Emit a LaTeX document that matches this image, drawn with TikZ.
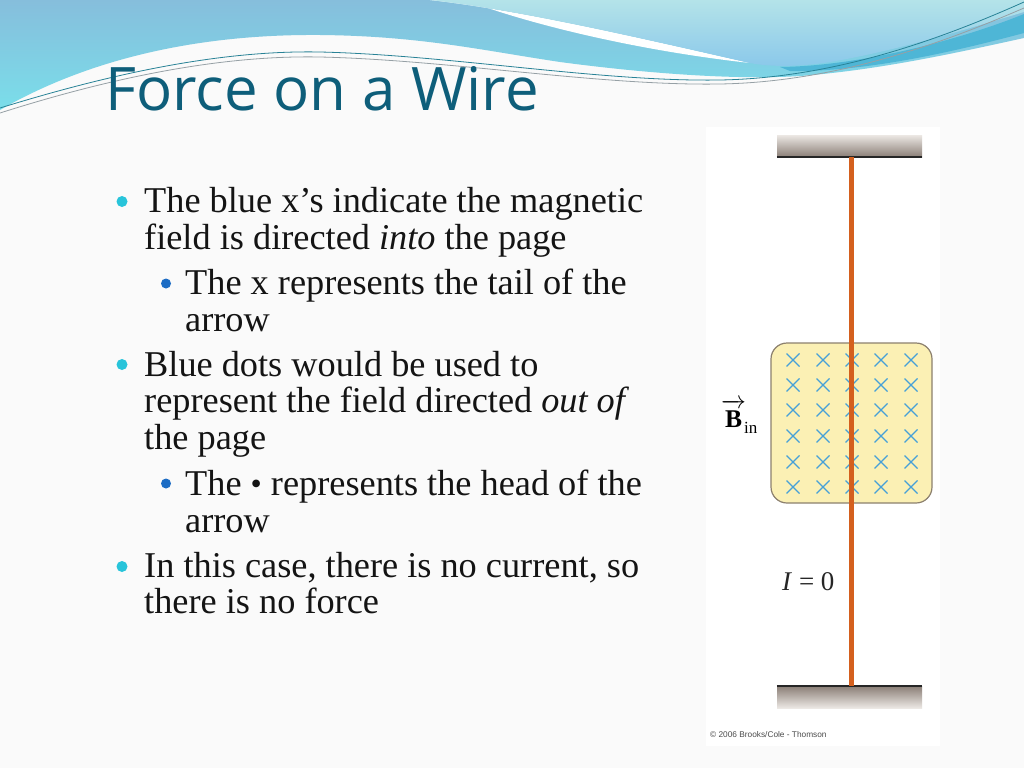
\documentclass[tikz,border=0pt]{standalone}
\usepackage{fontspec}
\setmainfont{Liberation Serif}
\newfontfamily\titlefont{Open Sans}
\newfontfamily\credfont{Liberation Sans}
\usetikzlibrary{positioning}
\definecolor{slide_bg}{RGB}{250,250,250}
\definecolor{wave_top}{RGB}{134,190,220}
\definecolor{wave_cyan}{RGB}{122,222,234}
\definecolor{wave_light}{RGB}{180,227,233}
\definecolor{wave_mid}{RGB}{138,200,234}
\definecolor{wave_teal}{RGB}{78,182,214}
\definecolor{line_teal}{RGB}{40,130,150}
\definecolor{line_gray}{RGB}{150,160,165}
\definecolor{title_teal}{RGB}{14,94,122}
\definecolor{bul_cyan}{RGB}{40,196,218}
\definecolor{bul_blue}{RGB}{28,108,196}
\definecolor{bar_light}{RGB}{236,232,228}
\definecolor{bar_dark}{RGB}{138,126,118}
\definecolor{wire_orange}{RGB}{212,96,30}
\definecolor{field_yellow}{RGB}{251,240,180}
\definecolor{field_edge}{RGB}{140,128,110}
\definecolor{cross_blue}{RGB}{70,160,215}

\begin{document}
\begin{tikzpicture}[x=1pt,y=-1pt]
    \tikzstyle{textline}=[anchor=base west, inner sep=0pt, font=\fontsize{36.3}{38}\selectfont, text=black!92]
    \tikzstyle{mainbul}=[circle, fill=bul_cyan, minimum size=11pt, inner sep=0pt]
    \tikzstyle{subbul}=[circle, fill=bul_blue, minimum size=10pt, inner sep=0pt]
    \tikzstyle{fieldx}=[cross_blue, line width=1.2pt]
    \tikzstyle{bar}=[rectangle, minimum width=145pt, minimum height=22pt, inner sep=0pt]

    \useasboundingbox (0,0) rectangle (1024,768);
    \fill[slide_bg] (0,0) rectangle (1024,768);

    % header waves
    \shade[top color=wave_top, bottom color=wave_cyan]
      (0,0) -- (0,110) .. controls (90,58) and (200,34) .. (320,35)
      .. controls (420,36) and (480,50) .. (560,62)
      .. controls (650,74) and (740,80) .. (800,76)
      .. controls (880,70) and (960,52) .. (1024,38) -- (1024,0) -- cycle;
    \fill[wave_teal] (780,67) .. controls (860,66) and (960,40) .. (1024,14)
      -- (1024,33) .. controls (960,50) and (870,72) .. (790,71) -- cycle;
    \fill[white] (430,0) .. controls (520,10) and (640,38) .. (750,63)
      .. controls (650,52) and (540,28) .. (465,0) -- cycle;
    \shade[top color=wave_light, bottom color=wave_mid]
      (430,0) .. controls (520,10) and (640,38) .. (750,63)
      .. controls (770,67) and (800,67) .. (830,62)
      .. controls (900,50) and (970,28) .. (1024,12) -- (1024,0) -- cycle;
    \draw[line_teal, line width=0.8pt] (0,108) .. controls (110,74) and (220,50) .. (320,52)
      .. controls (450,55) and (600,82) .. (720,80) .. controls (840,78) and (950,35) .. (1024,2);
    \draw[line_gray, line width=0.8pt] (0,113) .. controls (110,78) and (220,55) .. (320,57)
      .. controls (450,60) and (600,86) .. (720,84) .. controls (840,82) and (950,40) .. (1024,8);

    \node[anchor=base west, inner sep=0pt, text=title_teal, font=\titlefont\fontsize{60}{60}\selectfont] (title) at (105,110) {Force on a Wire};

    % bullets
    \node[mainbul] (b1) at (122,201.5) {};
    \node[subbul]  (b2) at (166,283.5) {};
    \node[mainbul] (b3) at (122,364.5) {};
    \node[subbul]  (b4) at (166,483.5) {};
    \node[mainbul] (b5) at (122,566.5) {};

    \node[textline] (t1)  at (144,212) {The blue x’s indicate the magnetic};
    \node[textline] (t2)  at (144,249) {field is directed \textit{into} the page};
    \node[textline] (t3)  at (185,294) {The x represents the tail of the};
    \node[textline] (t4)  at (185,331) {arrow};
    \node[textline] (t5)  at (144,376) {Blue dots would be used to};
    \node[textline] (t6)  at (144,412) {represent the field directed \textit{out of}};
    \node[textline] (t7)  at (144,449) {the page};
    \node[textline] (t8)  at (185,495) {The {\fontsize{32}{32}\selectfont\raisebox{1pt}{•}} represents the head of the};
    \node[textline] (t9)  at (185,532) {arrow};
    \node[textline] (t10) at (144,577) {In this case, there is no current, so};
    \node[textline] (t11) at (144,613) {there is no force};

    % figure
    \fill[white] (706,127) rectangle (940,746);
    \node[bar, top color=bar_light, bottom color=bar_dark] (top) at (849.5,146) {};
    \node[bar, top color=bar_dark, bottom color=bar_light] (bot) at (849.5,697) {};
    \draw[black!85, line width=1.5pt] (top.south west) -- (top.south east);
    \draw[black!85, line width=1.5pt] (bot.north west) -- (bot.north east);

    \node[draw=field_edge, fill=field_yellow, line width=1.2pt, rounded corners=16pt,
          minimum width=161pt, minimum height=160pt] (field) at (851.5,423) {};
    \foreach \cx in {793,823,852,881,911}
      \foreach \cy in {360,385,410,436,462,487}
        \draw[fieldx] (\cx-6.5,\cy-6.5) -- (\cx+6.5,\cy+6.5) (\cx-6.5,\cy+6.5) -- (\cx+6.5,\cy-6.5);

    \coordinate (wtop) at (851.5,157);
    \coordinate (wbot) at (851.5,686);
    \draw[wire_orange, line width=5.5pt] (wtop) -- (wbot);

    \node[anchor=base west, inner sep=0pt, font=\fontsize{25.5}{26}\selectfont] (bin) at (721,427)
      {$\overrightarrow{\mbox{\bfseries B\rule{0pt}{20pt}}}$\hspace{-2pt}\raisebox{-6pt}{\fontsize{17}{17}\selectfont in}};
    \node[anchor=base west, inner sep=0pt, font=\fontsize{27}{27}\selectfont, text=black!85] (izero) at (782,590) {\textit{I} = 0};
    \node[anchor=base west, inner sep=0pt, text=black!70, font=\credfont\fontsize{8.3}{9}\selectfont] (cred) at (710,737) {© 2006 Brooks/Cole - Thomson};
\end{tikzpicture}
\end{document}
